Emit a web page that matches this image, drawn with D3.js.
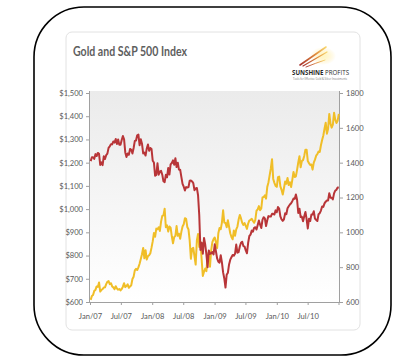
<!DOCTYPE html>
<html><head><meta charset="utf-8">
<script src="https://cdn.jsdelivr.net/npm/d3@7"></script>
<style>html,body{margin:0;padding:0;background:#fff;}svg{display:block;}</style>
</head><body>
<svg id="c" width="413" height="363"></svg>
<script>
// ---- DATA (weekly closes) ----
const years = [2007, 2008, 2009, 2010];
const firstFridays = ["2007-01-05", "2008-01-04", "2009-01-02", "2010-01-01"];
const gold2007 = [609,626,630,648,652,667,665,684,645,652,656,662,663,677,687,690,677,681,667,663,655,668,658,653,656,650,656,666,681,664,669,676,661,667,672,699,709,736,743,738,749,765,785,806,833,788,823,783,797,801,810,834];
const gold2008 = [861,897,881,916,913,922,906,946,971,973,1002,922,930,903,925,920,883,853,879,885,927,885,894,872,902,925,935,961,958,923,912,864,786,829,833,797,761,865,893,837,859,784,712,730,744,733,798,814,752,822,858,871];
const gold2009 = [878,857,832,896,919,913,942,995,942,940,922,952,924,896,880,870,908,885,913,925,955,975,960,941,932,940,928,915,938,951,954,958,949,941,954,993,999,1013,995,1003,1050,1052,1059,1045,1095,1115,1145,1175,1215,1130,1113,1100];
const gold2010 = [1096,1138,1140,1098,1083,1063,1090,1119,1109,1134,1104,1116,1095,1126,1160,1138,1141,1169,1201,1228,1180,1207,1211,1229,1256,1256,1207,1198,1190,1192,1170,1200,1213,1230,1237,1248,1246,1275,1298,1317,1346,1372,1325,1346,1410,1368,1351,1364,1415,1385,1371,1380,1410];
const spx2007 = [1409,1431,1431,1422,1449,1438,1456,1451,1387,1402,1386,1437,1421,1443,1452,1485,1494,1506,1505,1522,1515,1536,1507,1533,1503,1503,1530,1553,1534,1459,1433,1453,1445,1479,1474,1453,1484,1525,1527,1557,1561,1500,1535,1509,1453,1458,1441,1481,1504,1468,1484,1478];
const spx2008 = [1411,1401,1325,1330,1396,1331,1349,1353,1331,1293,1288,1330,1316,1370,1332,1390,1398,1413,1388,1426,1375,1400,1360,1360,1318,1278,1262,1240,1260,1257,1260,1296,1298,1292,1283,1242,1252,1255,1213,1099,899,940,877,968,930,873,800,896,876,879,887,873];
const spx2009 = [931,890,850,831,826,869,827,770,735,683,757,768,816,843,857,870,866,877,930,883,887,919,940,946,921,918,896,880,940,979,987,1010,1004,1026,1029,1016,1042,1068,1044,1025,1071,1087,1080,1036,1069,1093,1091,1091,1106,1106,1102,1126];
const spx2010 = [1115,1145,1136,1091,1074,1066,1075,1109,1104,1138,1150,1160,1167,1179,1194,1192,1217,1187,1111,1136,1088,1089,1064,1092,1117,1076,1022,1078,1065,1102,1102,1121,1079,1071,1065,1104,1110,1125,1148,1146,1166,1176,1183,1183,1225,1199,1199,1189,1224,1240,1244,1257,1258];
const leftTicks = [600,700,800,900,1000,1100,1200,1300,1400,1500];
const rightTicks = [600,800,1000,1200,1400,1600,1800];
const xTickDates = ["2007-01-01","2007-07-01","2008-01-01","2008-07-01","2009-01-01","2009-07-01","2010-01-01","2010-07-01"];
const xTickLabels = ["Jan/07","Jul/07","Jan/08","Jul/08","Jan/09","Jul/09","Jan/10","Jul/10"];
const title = "Gold and S&P 500 Index";

// ---- build series ----
const parse = d3.utcParse("%Y-%m-%d");
function build(arrs) {
  const out = [];
  arrs.forEach((arr, k) => {
    const start = parse(firstFridays[k]);
    arr.forEach((v, i) => out.push({date: d3.utcDay.offset(start, 7 * i), value: v}));
  });
  return out;
}
const gold = build([gold2007, gold2008, gold2009, gold2010]);
const spx = build([spx2007, spx2008, spx2009, spx2010]);

const svg = d3.select("#c");
const defs = svg.append("defs");
const bg = defs.append("linearGradient").attr("id","bg").attr("x1",0).attr("y1",0).attr("x2",0).attr("y2",1);
bg.append("stop").attr("offset","0%").attr("stop-color","#ebebeb");
bg.append("stop").attr("offset","100%").attr("stop-color","#ffffff");

// outer black rounded frame
svg.append("rect").attr("x",34).attr("y",7).attr("width",357).attr("height",348)
  .attr("rx",50).attr("ry",50).attr("fill","#fff").attr("stroke","#000").attr("stroke-width",1.6);
// inner panel
svg.append("rect").attr("x",66).attr("y",32).attr("width",294).attr("height",298)
  .attr("rx",6).attr("fill","#fff").attr("stroke","#e2e2e2").attr("stroke-width",1);

// title
svg.append("text").attr("x",73).attr("y",56).text(title)
  .attr("font-family","Lato, 'Open Sans', sans-serif").attr("font-weight",700)
  .attr("font-size",12.5).attr("fill","#5e5e5e")
  .attr("textLength",114).attr("lengthAdjust","spacingAndGlyphs");

// logo
const lg = defs.append("linearGradient").attr("id","sw").attr("x1",0).attr("y1",1).attr("x2",1).attr("y2",0);
lg.append("stop").attr("offset","0%").attr("stop-color","#a8322e");
lg.append("stop").attr("offset","60%").attr("stop-color","#e08a3a");
lg.append("stop").attr("offset","100%").attr("stop-color","#f8d870");
const glow = defs.append("radialGradient").attr("id","glow");
glow.append("stop").attr("offset","0%").attr("stop-color","#fff6c0").attr("stop-opacity",1);
glow.append("stop").attr("offset","100%").attr("stop-color","#ffe9a0").attr("stop-opacity",0);
svg.append("ellipse").attr("cx",323).attr("cy",56).attr("rx",13).attr("ry",9).attr("fill","url(#glow)");
const swoosh = [
  "M300,65 Q313,56 326,47",
  "M303,66 Q315,59 327,52",
  "M306,67 Q316,63 325,60"
];
swoosh.forEach((d,i) => svg.append("path").attr("d",d).attr("fill","none")
  .attr("stroke","url(#sw)").attr("stroke-width",[1.6,1.2,0.9][i]).attr("stroke-linecap","round"));
const lt = svg.append("text").attr("x",292).attr("y",75).attr("font-family","'Open Sans', sans-serif")
  .attr("font-size",6.2).attr("fill","#2a2a2a");
lt.append("tspan").attr("font-weight",700).text("SUNSHINE");
lt.append("tspan").attr("font-weight",400).text(" PROFITS");
lt.attr("textLength",57).attr("lengthAdjust","spacingAndGlyphs");
svg.append("text").attr("x",293).attr("y",80).text("Tools for Effective Gold & Silver Investments")
  .attr("font-family","'Open Sans', sans-serif").attr("font-size",2.6).attr("fill","#777")
  .attr("textLength",54).attr("lengthAdjust","spacingAndGlyphs");

// scales
const x0 = 90, x1 = 339, yTop = 93, yBot = 302;
const x = d3.scaleUtc().domain([parse("2007-01-01"), parse("2011-01-01")]).range([x0, x1]);
const yL = d3.scaleLinear().domain([600,1500]).range([yBot, yTop]);
const yR = d3.scaleLinear().domain([600,1800]).range([yBot, yTop]);

// plot bg
svg.append("rect").attr("x",x0).attr("y",yTop-2).attr("width",x1-x0).attr("height",yBot-yTop+2).attr("fill","url(#bg)");

const tickFont = "Lato, 'Open Sans', sans-serif";
const fmt = d => "$" + d3.format(",")(d);
const gL = svg.append("g").attr("transform",`translate(${x0},0)`)
  .call(d3.axisLeft(yL).tickValues(leftTicks).tickFormat(fmt).tickSize(4).tickPadding(3));
const gR = svg.append("g").attr("transform",`translate(${x1},0)`)
  .call(d3.axisRight(yR).tickValues(rightTicks).tickFormat(d3.format("d")).tickSize(4).tickPadding(3));
const gX = svg.append("g").attr("transform",`translate(0,${yBot})`)
  .call(d3.axisBottom(x).tickValues(xTickDates.map(parse)).tickFormat((d,i) => xTickLabels[i]).tickSize(3).tickPadding(9));
[gL,gR,gX].forEach(g => {
  g.select(".domain").attr("stroke","#a0a0a0").attr("stroke-width",1);
  g.selectAll(".tick line").attr("stroke","#a0a0a0");
  g.selectAll("text").attr("font-family",tickFont).attr("font-size",7.6).attr("fill","#5a5a5a");
});
gL.select(".domain").attr("d",`M-0.5,${yTop-2}V${yBot}`);
gR.select(".domain").attr("d",`M0.5,${yTop-2}V${yBot}`);
gX.select(".domain").attr("d",`M${x0},0.5H${x1}`);
gX.append("line").attr("x1",x1).attr("x2",x1).attr("y1",0).attr("y2",3).attr("stroke","#a0a0a0");

// lines
const lineG = d3.line().x(d => x(d.date)).y(d => yL(d.value));
const lineS = d3.line().x(d => x(d.date)).y(d => yR(d.value));
svg.append("path").datum(gold).attr("d",lineG).attr("fill","none").attr("stroke","#f0be28").attr("stroke-width",2).attr("stroke-linejoin","round");
svg.append("path").datum(spx).attr("d",lineS).attr("fill","none").attr("stroke","#b83538").attr("stroke-width",2).attr("stroke-linejoin","round");
</script>
</body></html>
